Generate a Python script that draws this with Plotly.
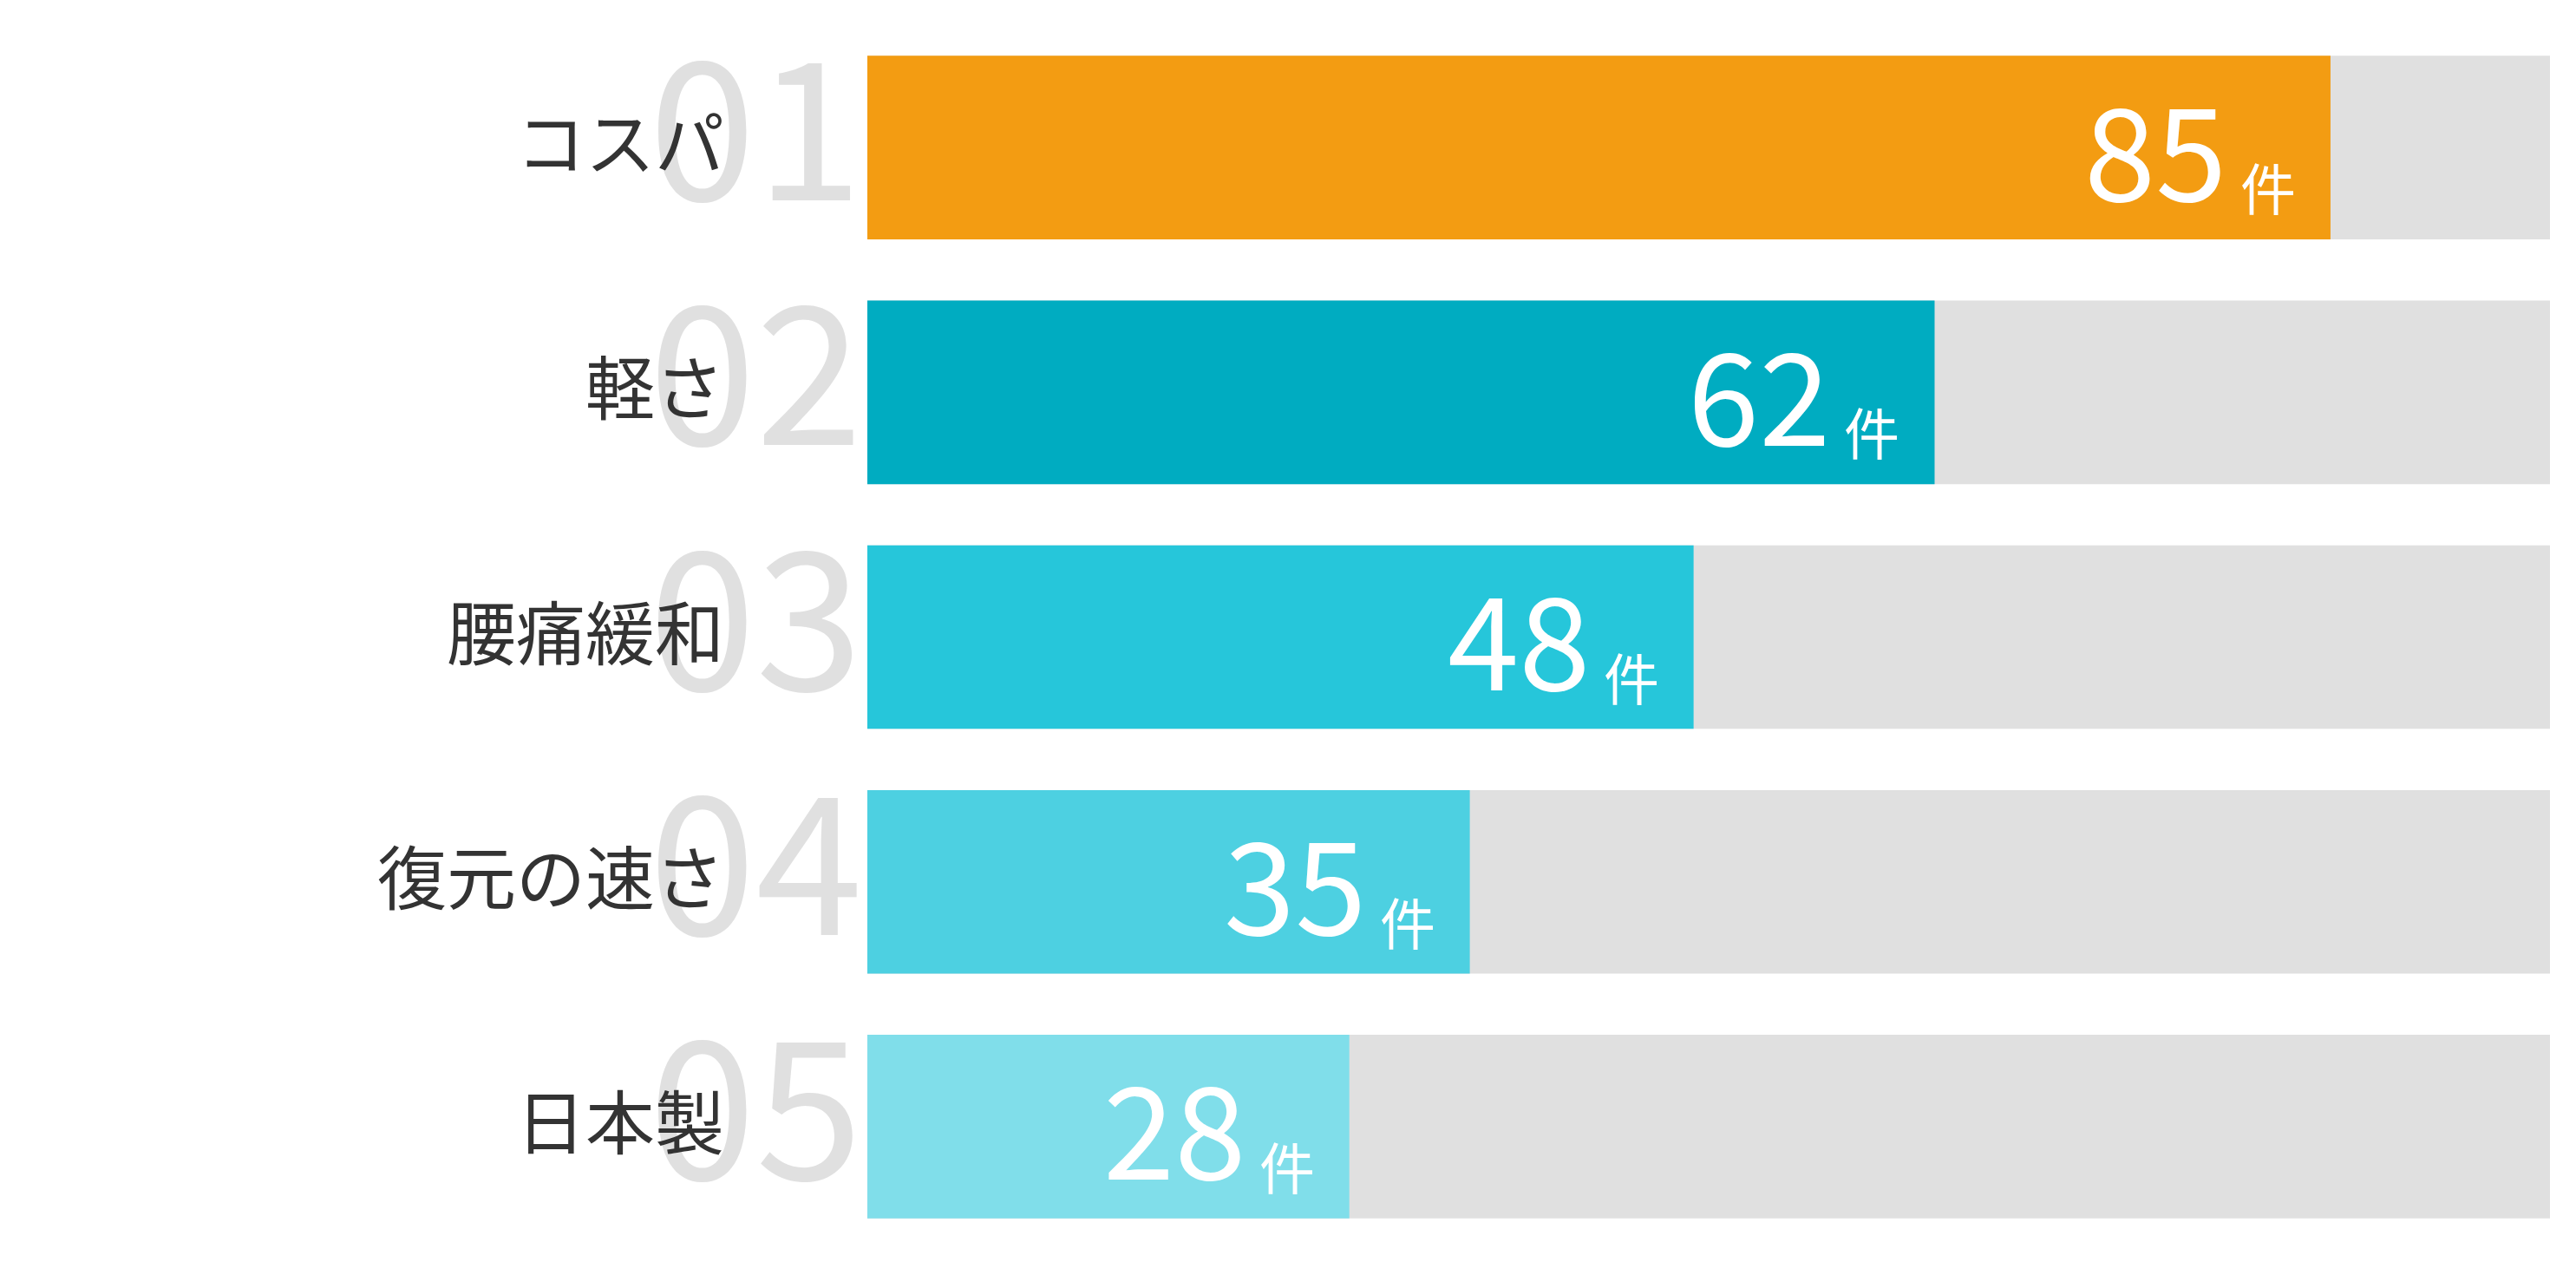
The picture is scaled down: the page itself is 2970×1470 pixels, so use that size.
import plotly.graph_objects as go

categories = ["コスパ", "軽さ", "腰痛緩和", "復元の速さ", "日本製"]
values = [85, 62, 48, 35, 28]
ranks = ["01", "02", "03", "04", "05"]
unit = "件"
bar_colors = ["#F39C12", "#00ACC1", "#26C6DA", "#4DD0E1", "#80DEEA"]

track = max(values) * 1.15
FONT = "Noto Sans CJK JP"

fig = go.Figure()
fig.add_trace(go.Bar(
    y=categories, x=[track] * len(categories), orientation="h",
    marker=dict(color="#E0E0E0", line=dict(width=0)), width=0.75,
    hoverinfo="skip", showlegend=False))
fig.add_trace(go.Bar(
    y=categories, x=values, orientation="h",
    marker=dict(color=bar_colors, line=dict(width=0)), width=0.75,
    showlegend=False))

annotations = []
for cat, r in zip(categories, ranks):
    annotations.append(dict(
        x=0, xref="paper", y=cat, yref="y", text=r, showarrow=False,
        xanchor="right", yanchor="middle", xshift=-4, yshift=36,
        font=dict(family=FONT, size=222, color="#E0E0E0")))
for cat in categories:
    annotations.append(dict(
        x=0, xref="paper", y=cat, yref="y", text=cat, showarrow=False,
        xanchor="right", yanchor="middle", xshift=-163, yshift=10,
        font=dict(family=FONT, size=80, color="#333333")))
for cat, v in zip(categories, values):
    annotations.append(dict(
        x=v, xref="x", y=cat, yref="y", text=str(v), showarrow=False,
        xanchor="right", yanchor="middle", xshift=-118, yshift=3,
        font=dict(family=FONT, size=148, color="#FFFFFF")))
    annotations.append(dict(
        x=v, xref="x", y=cat, yref="y", text=unit, showarrow=False,
        xanchor="right", yanchor="middle", xshift=-38, yshift=-44,
        font=dict(family=FONT, size=64, color="#FFFFFF")))

fig.update_layout(
    width=2970, height=1470,
    margin=dict(l=1000, r=30, t=29, b=30),
    paper_bgcolor="white", plot_bgcolor="white",
    barmode="overlay",
    xaxis=dict(range=[0, track], visible=False, fixedrange=True),
    yaxis=dict(type="category", range=[len(categories) - 0.5, -0.5],
               autorange=False, showticklabels=False, showgrid=False,
               zeroline=False, showline=False, ticks=""),
    annotations=annotations,
    font=dict(family=FONT),
)

fig.write_html("out.html")
